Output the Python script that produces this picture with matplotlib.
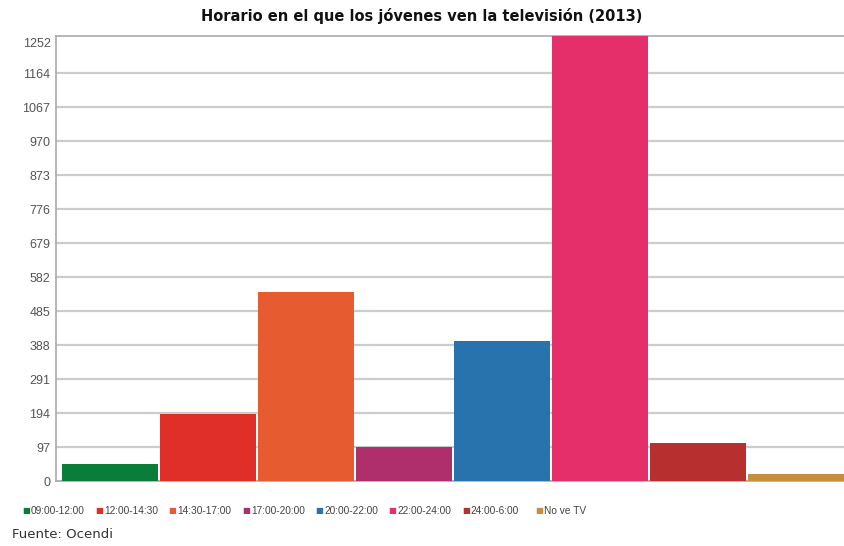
import matplotlib.pyplot as plt

# Franjas horarias y número de jóvenes
franjas = ['09:00-12:00', '12:00-14:30', '14:30-17:00', '17:00-20:00',
           '20:00-22:00', '22:00-24:00', '24:00-6:00', 'No ve TV']
jovenes = [48, 191, 539, 97, 400, 1270, 108, 20]
colores = ['#0b7d3b', '#df2f28', '#e65c30', '#ae2f6c',
           '#2872ae', '#e52f6a', '#b72f2e', '#c88d3d']
ticks_y = [0, 97, 194, 291, 388, 485, 582, 679, 776, 873, 970, 1067, 1164, 1252]

estrecha = ['Liberation Sans Narrow', 'Liberation Sans', 'DejaVu Sans']

fig = plt.figure(figsize=(8.44, 5.46), dpi=100)
ax = fig.add_axes([56 / 844, 65 / 546, 788 / 844, 445 / 546])

x = range(len(franjas))
ax.bar(x, jovenes, width=0.975, color=colores, zorder=3)

ax.set_xlim(-0.55, 7.49)
ax.set_ylim(0, 1270)
ax.set_xticks([])
ax.set_yticks(ticks_y)
ax.set_yticklabels([str(t) for t in ticks_y], family=estrecha,
                   fontsize=9, color='#555555')
ax.tick_params(axis='y', length=0, pad=4)
ax.grid(axis='y', color='#cccccc', linewidth=1.6, zorder=0)
# la última marca no lleva línea de rejilla
ax.get_ygridlines()[-1].set_visible(False)

for lado in ['left', 'top', 'bottom']:
    ax.spines[lado].set_color('#aaaaaa')
    ax.spines[lado].set_linewidth(1.2)
ax.spines['right'].set_visible(False)

fig.text(0.5, 1 - 16 / 546, 'Horario en el que los jóvenes ven la televisión (2013)',
         ha='center', va='center', fontsize=10.5, fontweight='bold', color='#111111')

# Leyenda dibujada a mano en una sola fila
x0 = 22
for i, (nombre, c) in enumerate(zip(franjas, colores)):
    px = x0 + i * 73.3
    fig.text(px / 844, 1 - 511 / 546, '■', color=c, fontsize=6,
             ha='left', va='center')
    fig.text((px + 9) / 844, 1 - 511 / 546, nombre, color='#444444', fontsize=7.3,
             family=estrecha, ha='left', va='center')

fig.text(12 / 844, 1 - 534 / 546, 'Fuente: Ocendi', fontsize=9.5, color='#333333',
         ha='left', va='center')

fig.savefig('out.png', dpi=100)
